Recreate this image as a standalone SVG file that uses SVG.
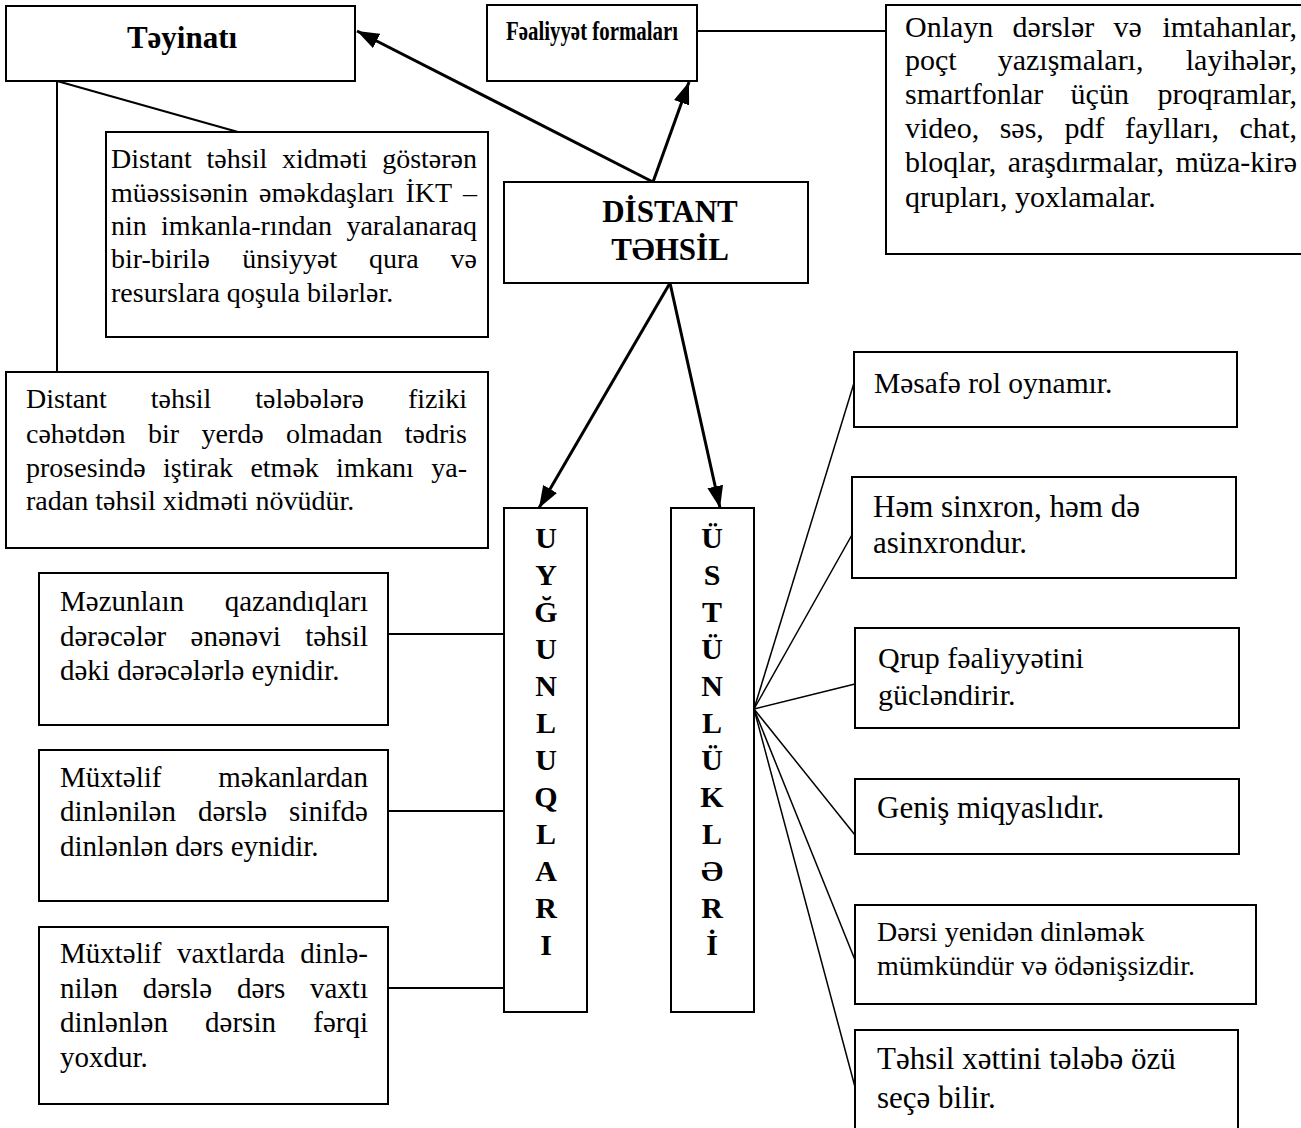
<svg xmlns="http://www.w3.org/2000/svg" width="1301" height="1128" viewBox="0 0 1301 1128">
<style>
.box{fill:#fff;stroke:#000;stroke-width:2}
.t{font-family:"Liberation Serif","Times New Roman",serif;font-size:28px;fill:#000}
.b{font-family:"Liberation Serif","Times New Roman",serif;font-weight:bold;fill:#000}
.l{font-size:29px}
.o{font-size:30px}
.m{font-size:29.5px}
.r{font-size:31px}
.e{text-anchor:end}
.ln{stroke:#000;stroke-width:2;fill:none}
.fn{stroke:#000;stroke-width:1.5;fill:none}
.ar{stroke:#000;stroke-width:3;fill:none;marker-end:url(#ah)}
</style>
<defs>
<marker id="ah" markerUnits="userSpaceOnUse" markerWidth="22" markerHeight="16" viewBox="0 0 22 16" refX="22" refY="8" orient="auto">
<path d="M0,0 L22,8 L0,16 Z" fill="#000"/>
</marker>
</defs>
<rect width="1301" height="1128" fill="#fff"/>
<g id="connectors">
<line class="ar" x1="653" y1="182" x2="357" y2="31"/>
<line class="ar" x1="653" y1="182" x2="689" y2="82"/>
<line class="ar" x1="670" y1="283" x2="539" y2="508"/>
<line class="ar" x1="670" y1="283" x2="720" y2="508"/>
<line class="ln" x1="57" y1="81" x2="238" y2="132"/>
<line class="ln" x1="57" y1="81" x2="57" y2="372"/>
<line class="ln" x1="697" y1="31" x2="886" y2="31"/>
<line class="ln" x1="388" y1="634" x2="504" y2="634"/>
<line class="ln" x1="388" y1="811" x2="504" y2="811"/>
<line class="ln" x1="388" y1="988" x2="504" y2="988"/>
<line class="fn" x1="754" y1="709" x2="854" y2="383"/>
<line class="fn" x1="754" y1="709" x2="853" y2="533"/>
<line class="fn" x1="754" y1="709" x2="855" y2="684"/>
<line class="fn" x1="754" y1="709" x2="855" y2="835"/>
<line class="fn" x1="754" y1="709" x2="855" y2="960"/>
<line class="fn" x1="754" y1="709" x2="855" y2="1087"/>
</g>
<g id="teyinati">
<rect class="box" x="6" y="6" width="349" height="75"/>
<text class="b" x="182" y="48" font-size="31" text-anchor="middle">Təyinatı</text>
</g>
<g id="fealiyyet">
<rect class="box" x="487" y="5" width="210" height="76"/>
<text class="b" x="506" y="40" font-size="27" textLength="172" lengthAdjust="spacingAndGlyphs">Fəaliyyət formaları</text>
</g>
<g id="onlayn">
<rect class="box" x="886" y="5" width="430" height="249"/>
<text class="t o"><tspan x="905" y="37">Onlayn</tspan><tspan x="1012.6">dərslər</tspan><tspan x="1113.5">və</tspan><tspan class="e" x="1297">imtahanlar,</tspan></text>
<text class="t o"><tspan x="905" y="70">poçt</tspan><tspan x="997.7">yazışmaları,</tspan><tspan class="e" x="1297">layihələr,</tspan></text>
<text class="t o"><tspan x="905" y="104">smartfonlar</tspan><tspan x="1070.6">üçün</tspan><tspan class="e" x="1297">proqramlar,</tspan></text>
<text class="t o"><tspan x="905" y="138">video,</tspan><tspan x="999.7">səs,</tspan><tspan x="1064.4">pdf</tspan><tspan x="1124.9">faylları,</tspan><tspan class="e" x="1297">chat,</tspan></text>
<text class="t o"><tspan x="905" y="172">bloqlar,</tspan><tspan x="1007.7">araşdırmalar,</tspan><tspan class="e" x="1297">müza-kirə</tspan></text>
<text class="t o" x="905" y="207">qrupları, yoxlamalar.</text>
</g>
<g id="distant">
<rect class="box" x="504" y="182" width="304" height="101"/>
<text class="b" font-size="31" text-anchor="middle"><tspan x="670" y="222">DİSTANT</tspan><tspan x="670" y="260">TƏHSİL</tspan></text>
</g>
<g id="xidmet">
<rect class="box" x="106" y="132" width="382" height="205"/>
<text class="t"><tspan x="111" y="168">Distant</tspan><tspan x="206.6">təhsil</tspan><tspan x="281.9">xidməti</tspan><tspan class="e" x="477">göstərən</tspan></text>
<text class="t"><tspan x="111" y="202">müəssisənin</tspan><tspan x="259">əməkdaşları</tspan><tspan x="405.4">İKT</tspan><tspan class="e" x="477">–</tspan></text>
<text class="t"><tspan x="111" y="235">nin</tspan><tspan x="161">imkanla-rından</tspan><tspan class="e" x="477">yaralanaraq</tspan></text>
<text class="t"><tspan x="111" y="268">bir-birilə</tspan><tspan x="242.3">ünsiyyət</tspan><tspan x="369">qura</tspan><tspan class="e" x="477">və</tspan></text>
<text class="t" x="111" y="302">resurslara qoşula bilərlər.</text>
</g>
<g id="tanim">
<rect class="box" x="6" y="372" width="482" height="176"/>
<text class="t"><tspan x="26" y="408">Distant</tspan><tspan x="150.7">təhsil</tspan><tspan x="255.2">tələbələrə</tspan><tspan class="e" x="467">fiziki</tspan></text>
<text class="t"><tspan x="26" y="443">cəhətdən</tspan><tspan x="147.9">bir</tspan><tspan x="201.4">yerdə</tspan><tspan x="286">olmadan</tspan><tspan class="e" x="467">tədris</tspan></text>
<text class="t"><tspan x="26" y="477">prosesində</tspan><tspan x="163.1">iştirak</tspan><tspan x="250.4">etmək</tspan><tspan x="336.1">imkanı</tspan><tspan class="e" x="467">ya-</tspan></text>
<text class="t" x="26" y="510">radan təhsil xidməti növüdür.</text>
</g>
<g id="uygunluqlari">
<rect class="box" x="504" y="508" width="83" height="504"/>
<text class="b" font-size="30" text-anchor="middle"><tspan x="546" y="548">U</tspan><tspan x="546" y="585">Y</tspan><tspan x="546" y="622">Ğ</tspan><tspan x="546" y="659">U</tspan><tspan x="546" y="696">N</tspan><tspan x="546" y="733">L</tspan><tspan x="546" y="770">U</tspan><tspan x="546" y="807">Q</tspan><tspan x="546" y="844">L</tspan><tspan x="546" y="881">A</tspan><tspan x="546" y="918">R</tspan><tspan x="546" y="955">I</tspan></text>
</g>
<g id="ustunlukleri">
<rect class="box" x="671" y="508" width="83" height="504"/>
<text class="b" font-size="30" text-anchor="middle"><tspan x="712" y="548">Ü</tspan><tspan x="712" y="585">S</tspan><tspan x="712" y="622">T</tspan><tspan x="712" y="659">Ü</tspan><tspan x="712" y="696">N</tspan><tspan x="712" y="733">L</tspan><tspan x="712" y="770">Ü</tspan><tspan x="712" y="807">K</tspan><tspan x="712" y="844">L</tspan><tspan x="712" y="881">Ə</tspan><tspan x="712" y="918">R</tspan><tspan x="712" y="955">İ</tspan></text>
</g>
<g id="mezun">
<rect class="box" x="39" y="573" width="349" height="152"/>
<text class="t l"><tspan x="60" y="611">Məzunlaın</tspan><tspan class="e" x="368">qazandıqları</tspan></text>
<text class="t l"><tspan x="60" y="646">dərəcələr</tspan><tspan x="190.6">ənənəvi</tspan><tspan class="e" x="368">təhsil</tspan></text>
<text class="t l" x="60" y="680">dəki dərəcələrlə eynidir.</text>
</g>
<g id="mekan">
<rect class="box" x="39" y="750" width="349" height="151"/>
<text class="t l"><tspan x="60" y="787">Müxtəlif</tspan><tspan class="e" x="368">məkanlardan</tspan></text>
<text class="t l"><tspan x="60" y="821">dinlənilən</tspan><tspan x="197.9">dərslə</tspan><tspan class="e" x="368">sinifdə</tspan></text>
<text class="t l" x="60" y="856">dinlənlən dərs eynidir.</text>
</g>
<g id="vaxt">
<rect class="box" x="39" y="927" width="349" height="177"/>
<text class="t l"><tspan x="60" y="963">Müxtəlif</tspan><tspan x="177">vaxtlarda</tspan><tspan class="e" x="368">dinlə-</tspan></text>
<text class="t l"><tspan x="60" y="998">nilən</tspan><tspan x="142.8">dərslə</tspan><tspan x="236.9">dərs</tspan><tspan class="e" x="368">vaxtı</tspan></text>
<text class="t l"><tspan x="60" y="1032">dinlənlən</tspan><tspan x="205.1">dərsin</tspan><tspan class="e" x="368">fərqi</tspan></text>
<text class="t l" x="60" y="1067">yoxdur.</text>
</g>
<g id="mesafe">
<rect class="box" x="854" y="352" width="383" height="75"/>
<text class="t m" x="874" y="393">Məsafə rol oynamır.</text>
</g>
<g id="sinxron">
<rect class="box" x="852" y="477" width="384" height="101"/>
<text class="t r"><tspan x="873" y="517">Həm sinxron, həm də</tspan><tspan x="873" y="553">asinxrondur.</tspan></text>
</g>
<g id="qrup">
<rect class="box" x="855" y="628" width="384" height="100"/>
<text class="t o"><tspan x="878" y="668">Qrup fəaliyyətini</tspan><tspan x="878" y="705">gücləndirir.</tspan></text>
</g>
<g id="genis">
<rect class="box" x="855" y="779" width="384" height="75"/>
<text class="t r" x="877" y="818">Geniş miqyaslıdır.</text>
</g>
<g id="dersi">
<rect class="box" x="855" y="905" width="401" height="99"/>
<text class="t"><tspan x="877" y="941">Dərsi yenidən dinləmək</tspan><tspan x="877" y="975">mümkündür və ödənişsizdir.</tspan></text>
</g>
<g id="tehsil">
<rect class="box" x="855" y="1030" width="383" height="110"/>
<text class="t r"><tspan x="877" y="1069">Təhsil xəttini tələbə özü</tspan><tspan x="877" y="1108">seçə bilir.</tspan></text>
</g>
</svg>
